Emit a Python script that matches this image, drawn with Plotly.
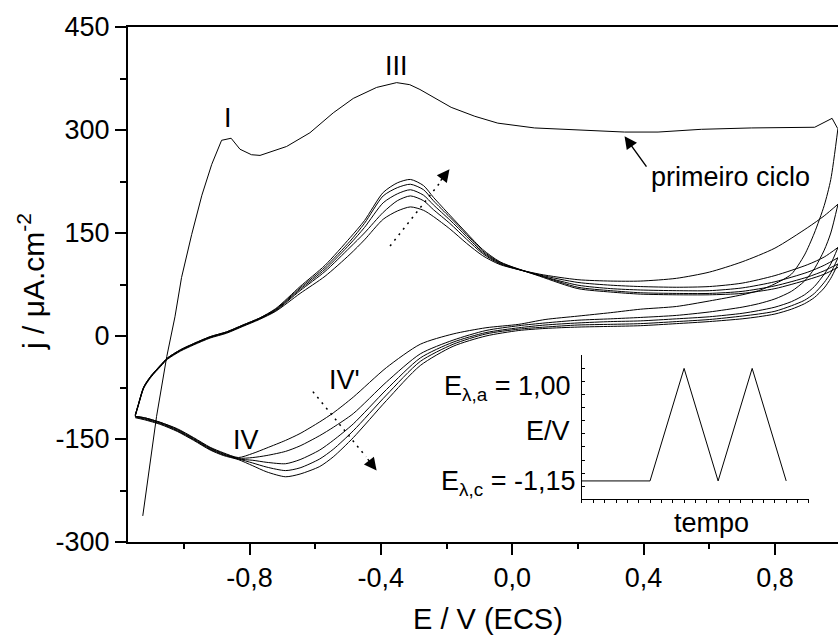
import plotly.graph_objects as go

# ---------------- data ----------------
# first cycle (anodic sweep, starting after the hold at E_lambda,c)
e_first = [-1.125, -1.083, -1.052, -1.027, -1.007, -0.976, -0.945, -0.915, -0.885, -0.856,
           -0.829, -0.794, -0.768, -0.687, -0.616, -0.545, -0.484, -0.413, -0.352, -0.312,
           -0.281, -0.186, -0.114, -0.044, 0.068, 0.220, 0.342, 0.444, 0.576, 0.728,
           0.829, 0.921, 0.974, 0.990]
j_first = [-262, -117, -30, 28, 85, 148, 205, 250, 285, 288,
           272, 264, 263, 276, 296, 325, 346, 362, 369, 366,
           359, 333, 320, 310, 303, 300, 297, 297, 301, 303,
           304, 304, 317, 303]

# anodic sweeps of the following cycles (common potential grid)
e_anodic = [-1.148, -1.14, -1.122, -1.10, -1.07, -1.05, -1.01, -0.97, -0.92, -0.87,
            -0.82, -0.77, -0.72, -0.646, -0.57, -0.494, -0.45, -0.393, -0.35, -0.31,
            -0.27, -0.24, -0.19, -0.139, -0.09, -0.037, 0.084, 0.2, 0.3, 0.39,
            0.5, 0.6, 0.7, 0.8, 0.9, 0.95, 0.992]
j_anodic_2 = [-117, -104, -76, -60, -44, -34, -22, -13, -3, 4,
              14, 24, 36, 62, 87, 119, 140, 170, 182, 188,
              183, 174, 156, 135, 117, 104, 90, 82, 80, 80,
              84, 93, 108, 128, 158, 175, 192]
j_anodic_3 = [-116, -103, -75, -59, -43, -33, -21, -12, -2, 5,
              15, 25, 37, 66, 94, 129, 150, 180, 197, 204,
              197, 184, 164, 141, 120, 105, 89, 78, 74, 72,
              71, 72, 77, 88, 104, 115, 129]
j_anodic_4 = [-116, -103, -75, -59, -43, -33, -21, -12, -2, 5,
              15, 25, 38, 68, 97, 134, 158, 194, 207, 213,
              205, 191, 169, 145, 122, 106, 88, 74, 69, 67,
              66, 66, 70, 79, 93, 103, 114]
j_anodic_5 = [-115, -102, -74, -58, -42, -32, -20, -11, -1, 6,
              16, 26, 39, 70, 100, 138, 164, 204, 216, 221,
              213, 197, 173, 148, 124, 107, 88, 71, 66, 63,
              62, 62, 65, 73, 86, 95, 105]
j_anodic_6 = [-115, -102, -74, -58, -42, -32, -20, -11, -1, 6,
              16, 26, 40, 72, 103, 143, 168, 209, 223, 228,
              219, 202, 176, 150, 126, 108, 87, 69, 64, 61,
              60, 60, 62, 69, 82, 90, 100]

# cathodic sweeps (common potential grid, from E_lambda,a back to E_lambda,c)
e_cathodic = [0.992, 0.97, 0.95, 0.92, 0.89, 0.85, 0.80, 0.75, 0.70, 0.60,
              0.50, 0.39, 0.30, 0.20, 0.10, 0.02, -0.08, -0.18, -0.28, -0.383,
              -0.484, -0.545, -0.586, -0.646, -0.69, -0.747, -0.79, -0.834,
              -0.88, -0.92, -0.97, -1.02, -1.07, -1.12, -1.148]
j_cathodic_1 = [303, 228, 190, 150, 118, 90, 76, 66, 60, 51,
                43, 39, 34, 29, 24, 17, 12, 3, -12, -46,
                -89, -112, -125, -142, -152, -163, -171, -177,
                -170, -162, -148, -135, -126, -119, -117]
j_cathodic_2 = [192, 150, 125, 98, 80, 65, 54, 47, 42, 35,
                30, 27, 25, 23, 19, 15, 8, -6, -26, -67,
                -113, -133, -145, -160, -168, -174, -177, -178,
                -171, -163, -149, -136, -126, -119, -117]
j_cathodic_3 = [129, 105, 90, 72, 60, 50, 42, 37, 33, 28,
                25, 22, 21, 19, 16, 12, 5, -9, -32, -78,
                -128, -152, -166, -180, -186, -184, -181, -179,
                -172, -164, -150, -137, -127, -120, -117]
j_cathodic_4 = [114, 92, 78, 62, 52, 44, 36, 32, 29, 24,
                21, 18, 17, 16, 13, 10, 3, -12, -37, -86,
                -138, -165, -179, -192, -196, -191, -185, -179,
                -173, -165, -151, -138, -128, -121, -118]
j_cathodic_5 = [105, 84, 70, 56, 47, 39, 32, 28, 25, 21,
                18, 15, 14, 13, 11, 8, 0, -15, -43, -94,
                -148, -176, -190, -201, -205, -198, -189, -180,
                -174, -166, -152, -139, -129, -122, -119]

# potential program shown in the inset
t_program = [0, 6, 9, 12, 15, 18]
e_program = [-1.15, -1.15, 1.00, -1.15, 1.00, -1.15]

# axis ticks
x_ticks = [-0.8, -0.4, 0.0, 0.4, 0.8]
x_ticklabels = ["-0,8", "-0,4", "0,0", "0,4", "0,8"]
y_ticks = [-300, -150, 0, 150, 300, 450]
y_ticklabels = ["-300", "-150", "0", "150", "300", "450"]

# ---------------- figure ----------------
FONT = "Liberation Sans, Arial, sans-serif"
TXT = 27
line = dict(color="black", width=1)
smooth = dict(color="black", width=1, shape="spline", smoothing=0.7)

fig = go.Figure()
fig.add_trace(go.Scatter(x=e_first, y=j_first, mode="lines", line=line))
for ja in [j_anodic_2, j_anodic_3, j_anodic_4, j_anodic_5, j_anodic_6]:
    fig.add_trace(go.Scatter(x=e_anodic, y=ja, mode="lines", line=smooth))
for jc in [j_cathodic_1, j_cathodic_2, j_cathodic_3, j_cathodic_4, j_cathodic_5]:
    fig.add_trace(go.Scatter(x=e_cathodic, y=jc, mode="lines", line=smooth))

# inset: potential vs time
fig.add_trace(go.Scatter(x=t_program, y=e_program, mode="lines", line=line,
                         xaxis="x2", yaxis="y2"))

fig.update_layout(
    width=838, height=636,
    margin=dict(l=128, r=0, t=27, b=94),
    paper_bgcolor="white", plot_bgcolor="white",
    showlegend=False,
    font=dict(family=FONT, size=TXT, color="black"),
    xaxis=dict(range=[-1.17, 0.992], tickvals=x_ticks, ticktext=x_ticklabels,
               ticks="outside", ticklen=11, tickwidth=2, tickcolor="black",
               minor=dict(dtick=0.2, tick0=0, ticks="outside", ticklen=5, tickwidth=2,
                          tickcolor="black"),
               showline=True, linewidth=2, linecolor="black", mirror=True,
               showgrid=False, zeroline=False, tickfont=dict(size=TXT)),
    yaxis=dict(range=[-300, 450], tickvals=y_ticks, ticktext=y_ticklabels,
               ticks="outside", ticklen=11, tickwidth=2, tickcolor="black",
               minor=dict(dtick=75, tick0=0, ticks="outside", ticklen=6, tickwidth=2,
                          tickcolor="black"),
               showline=True, linewidth=2, linecolor="black", mirror=False,
               showgrid=False, zeroline=False, tickfont=dict(size=TXT)),
    xaxis2=dict(domain=[0.6394, 0.959], anchor="y2", range=[0, 20], dtick=1,
                ticks="outside", ticklen=3, tickwidth=1, tickcolor="black",
                showticklabels=False, showline=True, linewidth=1, linecolor="black",
                showgrid=False, zeroline=False),
    yaxis2=dict(domain=[0.083, 0.3625], anchor="x2", range=[-1.5, 1.25], dtick=0.25,
                ticks="inside", ticklen=3, tickwidth=1, tickcolor="black",
                showticklabels=False, showline=True, linewidth=1, linecolor="black",
                showgrid=False, zeroline=False),
)

# axis titles
fig.add_annotation(text="E / V (ECS)", xref="paper", yref="paper", x=0.507, y=-0.1495,
                   showarrow=False, xanchor="center", yanchor="middle", borderpad=0,
                   font=dict(size=29))
fig.add_annotation(text="j / μA.cm<sup>-2</sup>", xref="paper", yref="paper",
                   x=-0.1366, y=0.505, textangle=-90, showarrow=False,
                   xanchor="center", yanchor="middle", font=dict(size=30))

# peak labels
for txt, xe, yj in [("I", -0.867, 317), ("III", -0.352, 393),
                    ("IV", -0.812, -152), ("IV'", -0.512, -64)]:
    fig.add_annotation(text=txt, x=xe, y=yj, showarrow=False, font=dict(size=TXT))

fig.add_annotation(text="primeiro ciclo", x=0.664, y=231, showarrow=False,
                   font=dict(size=TXT))
fig.add_annotation(text="", x=0.342, y=291, ax=23, ay=32, showarrow=True,
                   arrowhead=2, arrowsize=1.8, arrowwidth=1.4, arrowcolor="black")

# dotted arrows showing the evolution with cycling
fig.add_shape(type="line", x0=-0.372, y0=131, x1=-0.222, y1=222,
              line=dict(color="black", width=1.5, dash="2px,5px"))
fig.add_annotation(text="", x=-0.191, y=243, ax=-10, ay=13, showarrow=True,
                   arrowhead=2, arrowsize=1.8, arrowwidth=1.4, arrowcolor="black")
fig.add_shape(type="line", x0=-0.607, y0=-81, x1=-0.445, y1=-176,
              line=dict(color="black", width=1.5, dash="2px,5px"))
fig.add_annotation(text="", x=-0.413, y=-196, ax=-10, ay=-13, showarrow=True,
                   arrowhead=2, arrowsize=1.8, arrowwidth=1.4, arrowcolor="black")

# inset labels
fig.add_annotation(text="E<sub>λ,a</sub> = 1,00", xref="paper", yref="paper",
                   x=0.6268, y=0.30, xanchor="right", yanchor="middle",
                   showarrow=False, font=dict(size=TXT))
fig.add_annotation(text="E/V", xref="paper", yref="paper", x=0.6254, y=0.2155,
                   xanchor="right", yanchor="middle", showarrow=False, font=dict(size=TXT))
fig.add_annotation(text="E<sub>λ,c</sub> = -1,15", xref="paper", yref="paper",
                   x=0.6324, y=0.115, xanchor="right", yanchor="middle",
                   showarrow=False, font=dict(size=TXT))
fig.add_annotation(text="tempo", xref="paper", yref="paper", x=0.8215, y=0.0375,
                   xanchor="center", yanchor="middle", showarrow=False, font=dict(size=TXT))

fig.write_html("out.html")
